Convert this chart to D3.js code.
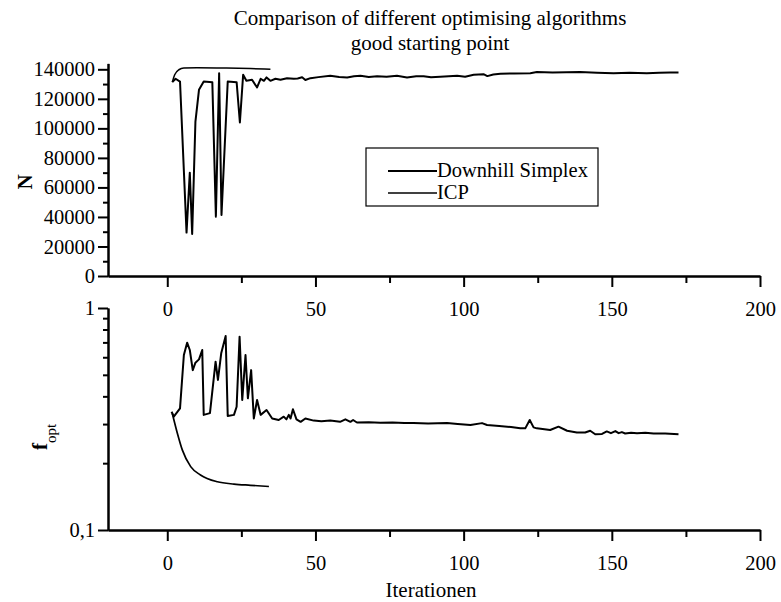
<!DOCTYPE html>
<html>
<head>
<meta charset="utf-8">
<script src="https://cdn.jsdelivr.net/npm/d3@7"></script>
<style>
  body { margin: 0; background: #fff; }
  text { font-family: "Liberation Serif", "Times New Roman", serif; fill: #000; }
</style>
</head>
<body>
<svg id="chart"></svg>
<script>
// iterations and values
const dsIterTop = [1.7, 2.8, 4.3, 6.5, 7.6, 8.4, 9.5, 10.7, 12.3, 15.2, 16.4, 17.5, 18.3, 20.4, 23.4, 24.5, 25.6, 26.7, 28.6, 30.3, 31.5, 32.6, 33.5, 34.8, 36.5, 38.2, 40.4, 42.7, 44, 45.5, 46.6, 48.3, 51, 55, 58, 60.7, 63, 65.2, 68, 70.8, 74, 77.5, 80.9, 84, 86.5, 89, 92.1, 95, 97.8, 100.5, 103.4, 106.7, 108, 110, 112.4, 117, 122.5, 124.7, 130, 139.3, 145, 150.6, 156, 161.8, 166, 169.7, 172.5];
const dsN = [131300, 133600, 131700, 29400, 70000, 28500, 104600, 126100, 131700, 131300, 40200, 137400, 41400, 131700, 131300, 104000, 136300, 132200, 132900, 127700, 133600, 132200, 134500, 132200, 133600, 132900, 134000, 133600, 133800, 134600, 132800, 134000, 134700, 135600, 134800, 134500, 135300, 135600, 134800, 135300, 135000, 135600, 134500, 135300, 135300, 134600, 135000, 135300, 135600, 135000, 136300, 136700, 135400, 136500, 137000, 137200, 137400, 138100, 137900, 138100, 137700, 137400, 137600, 137400, 137600, 137800, 137800];

const icpIterTop = [1.7, 2.5, 3.9, 5.6, 10, 20, 28, 34.8];
const icpN = [131300, 136300, 139700, 140800, 141000, 140800, 140500, 140100];

const dsIterBot = [1.45, 2.2, 4.3, 5.6, 6.7, 7.6, 8.6, 9.5, 10.7, 11.8, 12.3, 14.4, 16.3, 17.1, 18.2, 19.7, 20.4, 22.5, 23.4, 24.4, 25.3, 26.4, 27.2, 28.3, 29.2, 30.3, 31.5, 33.5, 35.4, 37.6, 39.3, 40.2, 41, 41.6, 42.4, 43.6, 45, 46.6, 49.4, 52, 55, 58.3, 60.1, 61.8, 62.7, 64, 68, 71.9, 76, 80, 83.1, 88, 94.4, 98, 102.3, 106.2, 107.9, 112, 116, 119.1, 120.8, 122.3, 123.6, 124.7, 129.2, 132, 134.9, 138.2, 141, 142.7, 144.4, 146.7, 148.3, 149.7, 151.2, 152.3, 153.4, 154.5, 156.5, 158.5, 161.3, 164.1, 168, 172.5];
const dsF = [0.341, 0.324, 0.353, 0.614, 0.698, 0.647, 0.525, 0.567, 0.587, 0.647, 0.330, 0.336, 0.573, 0.474, 0.625, 0.748, 0.326, 0.330, 0.359, 0.743, 0.385, 0.614, 0.392, 0.525, 0.318, 0.385, 0.330, 0.347, 0.318, 0.313, 0.324, 0.315, 0.330, 0.318, 0.350, 0.315, 0.307, 0.318, 0.311, 0.309, 0.311, 0.307, 0.315, 0.307, 0.313, 0.305, 0.306, 0.304, 0.305, 0.303, 0.303, 0.302, 0.303, 0.300, 0.297, 0.303, 0.297, 0.294, 0.291, 0.287, 0.287, 0.313, 0.290, 0.287, 0.282, 0.292, 0.280, 0.275, 0.275, 0.280, 0.270, 0.271, 0.278, 0.273, 0.279, 0.273, 0.276, 0.272, 0.274, 0.273, 0.274, 0.272, 0.272, 0.270];

const icpIterBot = [1.7, 3.4, 5.1, 7.9, 11.2, 16.9, 22.5, 28.1, 34.3];
const icpF = [0.335, 0.273, 0.229, 0.193, 0.177, 0.165, 0.161, 0.159, 0.157];

const xMajor = [0, 50, 100, 150, 200];
const xMinor = [25, 75, 125, 175];
const nMajor = [0, 20000, 40000, 60000, 80000, 100000, 120000, 140000];
const nMinor = [10000, 30000, 50000, 70000, 90000, 110000, 130000];
const fMajor = [0.1, 1];
const fMajorLabels = ['0,1', '1'];
const fMinor = [0.2, 0.3, 0.4, 0.5, 0.6, 0.7, 0.8, 0.9];
const seriesNames = ['Downhill Simplex', 'ICP'];

const width = 781, height = 602;
const left = 108, right = 760;

const svg = d3.select('#chart')
    .attr('width', width)
    .attr('height', height);

const x = d3.scaleLinear().domain([-20, 200]).range([left, right]);
const yN = d3.scaleLinear().domain([0, 144000]).range([276, 63.4]);
const yF = d3.scaleLog().domain([0.1, 1]).range([530, 308]);

// title
svg.append('text').attr('x', 430).attr('y', 25)
    .attr('text-anchor', 'middle').style('font-size', '21px')
    .text('Comparison of different optimising algorithms');
svg.append('text').attr('x', 430).attr('y', 50)
    .attr('text-anchor', 'middle').style('font-size', '21px')
    .text('good starting point');

function styleAxis(g) {
    g.select('.domain').attr('stroke', '#000').attr('stroke-width', 2);
    g.selectAll('.tick line').attr('stroke', '#000').attr('stroke-width', 2);
    g.selectAll('.tick text').style('font-size', '20.5px')
        .style('font-family', '"Liberation Serif", serif').attr('fill', '#000');
}

function drawX(yPos) {
    svg.append('g')
        .attr('transform', `translate(0,${yPos})`)
        .call(d3.axisBottom(x).tickValues(xMinor).tickSize(7).tickSizeOuter(0).tickFormat(''))
        .call(styleAxis);
    svg.append('g')
        .attr('transform', `translate(0,${yPos})`)
        .call(d3.axisBottom(x).tickValues(xMajor).tickSize(11).tickSizeOuter(0).tickPadding(14))
        .call(styleAxis);
}

// top panel axes
svg.append('g').attr('transform', `translate(${left},0)`)
    .call(d3.axisLeft(yN).tickValues(nMinor).tickSize(5).tickSizeOuter(0).tickFormat(''))
    .call(styleAxis);
svg.append('g').attr('transform', `translate(${left},0)`)
    .call(d3.axisLeft(yN).tickValues(nMajor).tickSize(10).tickSizeOuter(0).tickPadding(3).tickFormat(d3.format('d')))
    .call(styleAxis);
drawX(276);

// bottom panel axes
svg.append('g').attr('transform', `translate(${left},0)`)
    .call(d3.axisLeft(yF).tickValues(fMinor).tickSize(5).tickSizeOuter(0).tickFormat(''))
    .call(styleAxis);
svg.append('g').attr('transform', `translate(${left},0)`)
    .call(d3.axisLeft(yF).tickValues(fMajor).tickSize(10).tickSizeOuter(0).tickPadding(3)
        .tickFormat((d, i) => fMajorLabels[i]))
    .call(styleAxis);
drawX(530);

// axis titles
svg.append('text')
    .attr('transform', 'translate(32,182) rotate(-90)')
    .attr('text-anchor', 'middle')
    .style('font-size', '21px').style('font-weight', 'bold')
    .text('N');

const fLabel = svg.append('text')
    .attr('transform', 'translate(47,437) rotate(-90)')
    .attr('text-anchor', 'middle')
    .style('font-size', '21px');
fLabel.append('tspan').style('font-weight', 'bold').text('f');
fLabel.append('tspan').attr('dy', 9).style('font-size', '15px').text('opt');

svg.append('text').attr('x', 431).attr('y', 597)
    .attr('text-anchor', 'middle').style('font-size', '21px')
    .text('Iterationen');

// lines
const lineTop = d3.line().x(d => x(d[0])).y(d => yN(d[1]));
const lineTopSmooth = d3.line().x(d => x(d[0])).y(d => yN(d[1])).curve(d3.curveMonotoneX);
const lineBot = d3.line().x(d => x(d[0])).y(d => yF(d[1]));
const lineBotSmooth = d3.line().x(d => x(d[0])).y(d => yF(d[1])).curve(d3.curveMonotoneX);

svg.append('path').datum(d3.zip(icpIterTop, icpN))
    .attr('d', lineTopSmooth).attr('fill', 'none').attr('stroke', '#000').attr('stroke-width', 1.5);
svg.append('path').datum(d3.zip(dsIterTop, dsN))
    .attr('d', lineTop).attr('fill', 'none').attr('stroke', '#000')
    .attr('stroke-width', 2).attr('stroke-linejoin', 'round');

svg.append('path').datum(d3.zip(icpIterBot, icpF))
    .attr('d', lineBotSmooth).attr('fill', 'none').attr('stroke', '#000').attr('stroke-width', 1.7);
svg.append('path').datum(d3.zip(dsIterBot, dsF))
    .attr('d', lineBot).attr('fill', 'none').attr('stroke', '#000')
    .attr('stroke-width', 2).attr('stroke-linejoin', 'round');

// legend
const legend = svg.append('g');
legend.append('rect')
    .attr('x', 366).attr('y', 148).attr('width', 232).attr('height', 58)
    .attr('fill', '#fff').attr('stroke', '#000').attr('stroke-width', 1.2);
const widths = [2.2, 1.4];
seriesNames.forEach((name, i) => {
    const yy = 171 + i * 22;
    legend.append('line')
        .attr('x1', 388).attr('x2', 437).attr('y1', yy).attr('y2', yy)
        .attr('stroke', '#000').attr('stroke-width', widths[i]);
    legend.append('text')
        .attr('x', 437).attr('y', yy + 6)
        .style('font-size', '20.5px')
        .text(name);
});
</script>
</body>
</html>
